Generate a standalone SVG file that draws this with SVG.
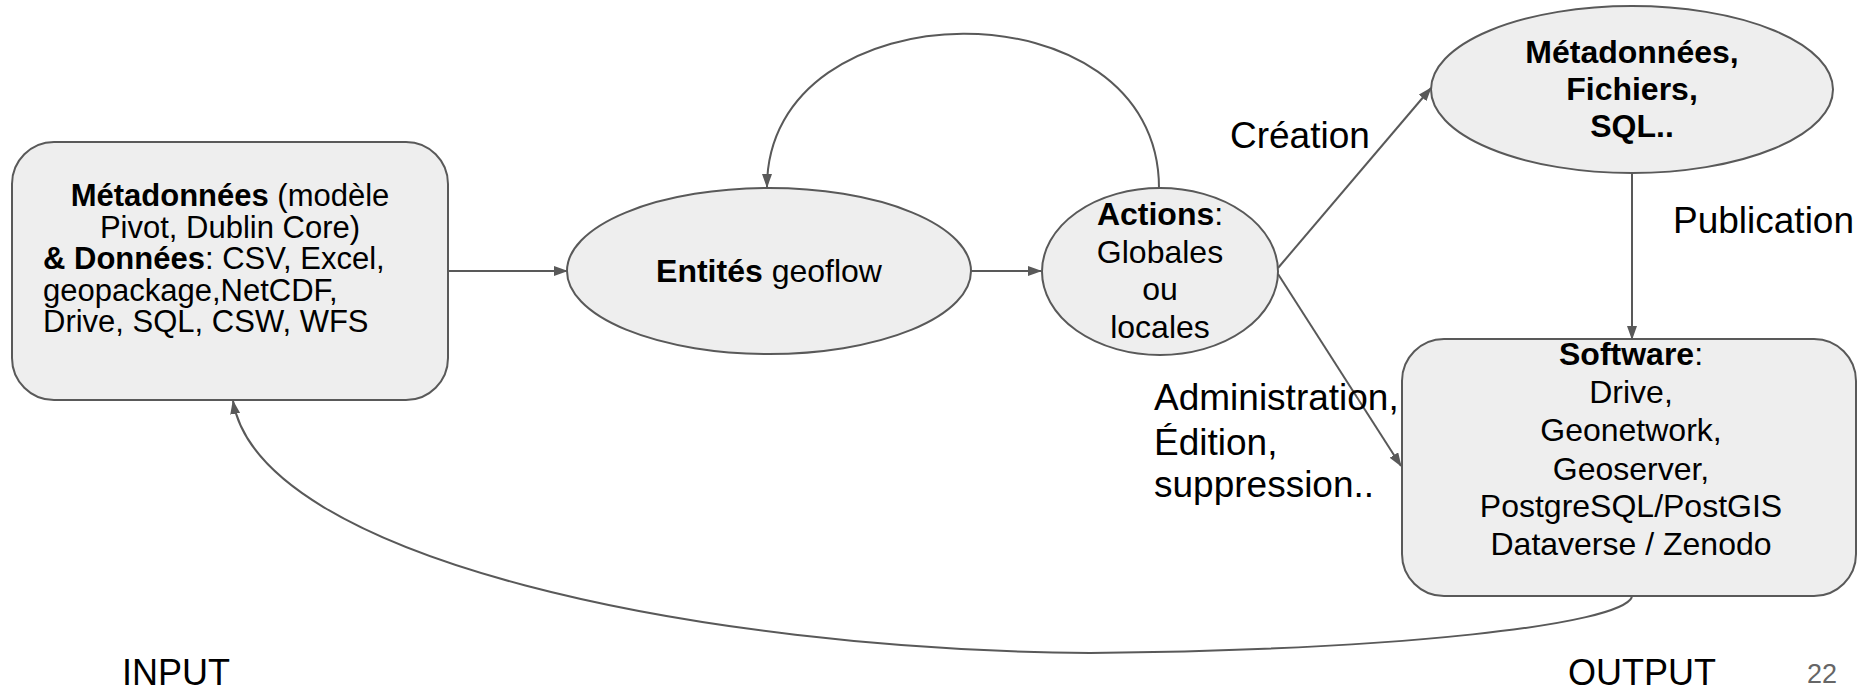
<svg xmlns="http://www.w3.org/2000/svg" width="1858" height="690" viewBox="0 0 1858 690">
<style>
.shape{fill:#eeeeee;stroke:#595959;stroke-width:2}
.conn{fill:none;stroke:#595959;stroke-width:2}
text{font-family:"Liberation Sans",Arial,sans-serif;fill:#000}
.b{font-weight:bold}
.c{text-anchor:middle}
</style>
<defs>
<marker id="arr" markerUnits="userSpaceOnUse" markerWidth="14" markerHeight="10" refX="13" refY="5" orient="auto" viewBox="0 0 14 10">
<path d="M0,0 L14,5 L0,10 z" fill="#595959"/>
</marker>
</defs>
<g id="connectors">
<line class="conn" x1="448" y1="271" x2="567" y2="271" marker-end="url(#arr)"/>
<line class="conn" x1="971" y1="271" x2="1041" y2="271" marker-end="url(#arr)"/>
<path class="conn" d="M1159,188 C1159,-20 767,-15 767,187" marker-end="url(#arr)"/>
<line class="conn" x1="1278" y1="268" x2="1431" y2="88" marker-end="url(#arr)"/>
<line class="conn" x1="1278" y1="274" x2="1401" y2="466" marker-end="url(#arr)"/>
<line class="conn" x1="1632" y1="173" x2="1632" y2="339" marker-end="url(#arr)"/>
<path class="conn" d="M1632,597 C1620,625 1400,650 1090,653 C700,650 260,560 233,401" marker-end="url(#arr)"/>
</g>
<g id="node-input">
<rect class="shape" x="12" y="142" width="436" height="258" rx="42" ry="42"/>
<text x="230" y="206" font-size="31" class="c"><tspan class="b">Métadonnées</tspan> (modèle</text>
<text x="230" y="238" font-size="31" class="c">Pivot, Dublin Core)</text>
<text x="43" y="269" font-size="31"><tspan class="b">&amp; Données</tspan>: CSV, Excel,</text>
<text x="43" y="301" font-size="31">geopackage,NetCDF,</text>
<text x="43" y="332" font-size="31">Drive, SQL, CSW, WFS</text>
</g>
<g id="node-entites">
<ellipse class="shape" cx="769" cy="271" rx="202" ry="83"/>
<text x="769" y="282" font-size="32" class="c"><tspan class="b">Entités</tspan> geoflow</text>
</g>
<g id="node-actions">
<ellipse class="shape" cx="1160" cy="271.5" rx="118" ry="83.5"/>
<text x="1160" y="225" font-size="32" class="c"><tspan class="b">Actions</tspan>:</text>
<text x="1160" y="263" font-size="32" class="c">Globales</text>
<text x="1160" y="300" font-size="32" class="c">ou</text>
<text x="1160" y="338" font-size="32" class="c">locales</text>
</g>
<g id="node-fichiers">
<ellipse class="shape" cx="1632" cy="89.5" rx="201" ry="83.5"/>
<text x="1632" y="63" font-size="32" class="c b">Métadonnées,</text>
<text x="1632" y="100" font-size="32" class="c b">Fichiers,</text>
<text x="1632" y="137" font-size="32" class="c b">SQL..</text>
</g>
<g id="node-software">
<rect class="shape" x="1402" y="339" width="454" height="257" rx="42" ry="42"/>
<text x="1631" y="365" font-size="32" class="c"><tspan class="b">Software</tspan>:</text>
<text x="1631" y="403" font-size="32" class="c">Drive,</text>
<text x="1631" y="441" font-size="32" class="c">Geonetwork,</text>
<text x="1631" y="480" font-size="32" class="c">Geoserver,</text>
<text x="1631" y="517" font-size="32" class="c">PostgreSQL/PostGIS</text>
<text x="1631" y="555" font-size="32" class="c">Dataverse / Zenodo</text>
</g>
<g id="labels">
<text x="1230" y="148" font-size="37">Création</text>
<text x="1673" y="233" font-size="37">Publication</text>
<text x="1154" y="410" font-size="37">Administration,</text>
<text x="1154" y="455" font-size="37">Édition,</text>
<text x="1154" y="497" font-size="37">suppression..</text>
<text x="122" y="685" font-size="36">INPUT</text>
<text x="1568" y="685" font-size="36">OUTPUT</text>
<text x="1807" y="683" font-size="27" fill="#666666" style="fill:#666666">22</text>
</g>
</svg>
